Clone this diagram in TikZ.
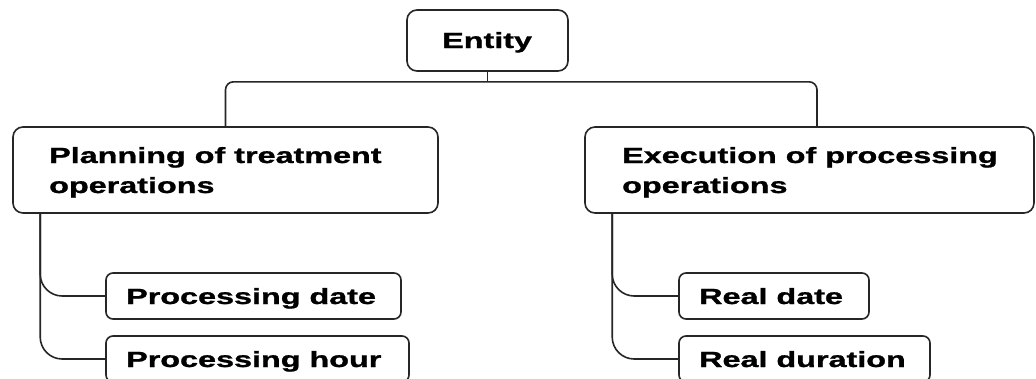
\documentclass[tikz,border=0pt]{standalone}
\usepackage{fontspec}
\usepackage{graphicx}
\setmainfont{Liberation Sans}[BoldFeatures={FakeBold=1}]
\usetikzlibrary{calc}
\newcommand{\wt}[1]{\scalebox{1.47}[1]{\fontsize{22}{30}\selectfont\bfseries #1}}
\tikzset{
  box/.style={draw=black!85, line width=1.6pt, rounded corners=10pt, inner sep=0pt, fill=white},
  sbox/.style={box, rounded corners=7pt},
  lbl/.style={anchor=base west, inner sep=0pt, text=black},
  conn/.style={draw=black!85, line width=1.6pt},
}
\begin{document}
\begin{tikzpicture}[x=1pt,y=-1pt]
\useasboundingbox (0,0) rectangle (1036,378);
\clip (0,0) rectangle (1036,378);
\fill[white] (0,0) rectangle (1036,378);
% boxes
\node[box, minimum width=161pt, minimum height=61pt] (ent) at (487.5,40.5) {};
\node[box, minimum width=425pt, minimum height=86pt] (plan) at (225.5,170) {};
\node[box, minimum width=449pt, minimum height=86pt] (exec) at (809.5,170) {};
\node[sbox, minimum width=295pt, minimum height=46pt] (pdate) at (253.5,296) {};
\node[sbox, minimum width=303pt, minimum height=46pt] (phour) at (257.5,359) {};
\node[sbox, minimum width=190pt, minimum height=46pt] (rdate) at (774,296) {};
\node[sbox, minimum width=251pt, minimum height=46pt] (rdur) at (804.5,359) {};
% texts
\node[lbl] (tent) at (442,48) {\wt{Entity}};
\node[lbl] (tplan1) at (49,163) {\wt{Planning of treatment}};
\node[lbl] (tplan2) at (49,193) {\wt{operations}};
\node[lbl] (texec1) at (622,163) {\wt{Execution of processing}};
\node[lbl] (texec2) at (622,193) {\wt{operations}};
\node[lbl] (tpdate) at (126,304) {\wt{Processing date}};
\node[lbl] (tphour) at (126,367) {\wt{Processing hour}};
\node[lbl] (trdate) at (699,304) {\wt{Real date}};
\node[lbl] (trdur) at (699,367) {\wt{Real duration}};
% connectors
\draw[conn] (ent.south) -- ++(0,10) coordinate (bar);
\draw[conn, rounded corners=8pt] (plan.north) |- (bar) -| ($(exec.north)+(7.5,0)$);
\coordinate (pl) at ($(plan.south west)+(28,0)$);
\coordinate (el) at ($(exec.south west)+(28,0)$);
\draw[conn, rounded corners=22pt] (pl) |- (pdate.west);
\draw[conn, rounded corners=22pt] (pl) |- (phour.west);
\draw[conn, rounded corners=22pt] (el) |- (rdate.west);
\draw[conn, rounded corners=22pt] (el) |- (rdur.west);
\end{tikzpicture}
\end{document}
